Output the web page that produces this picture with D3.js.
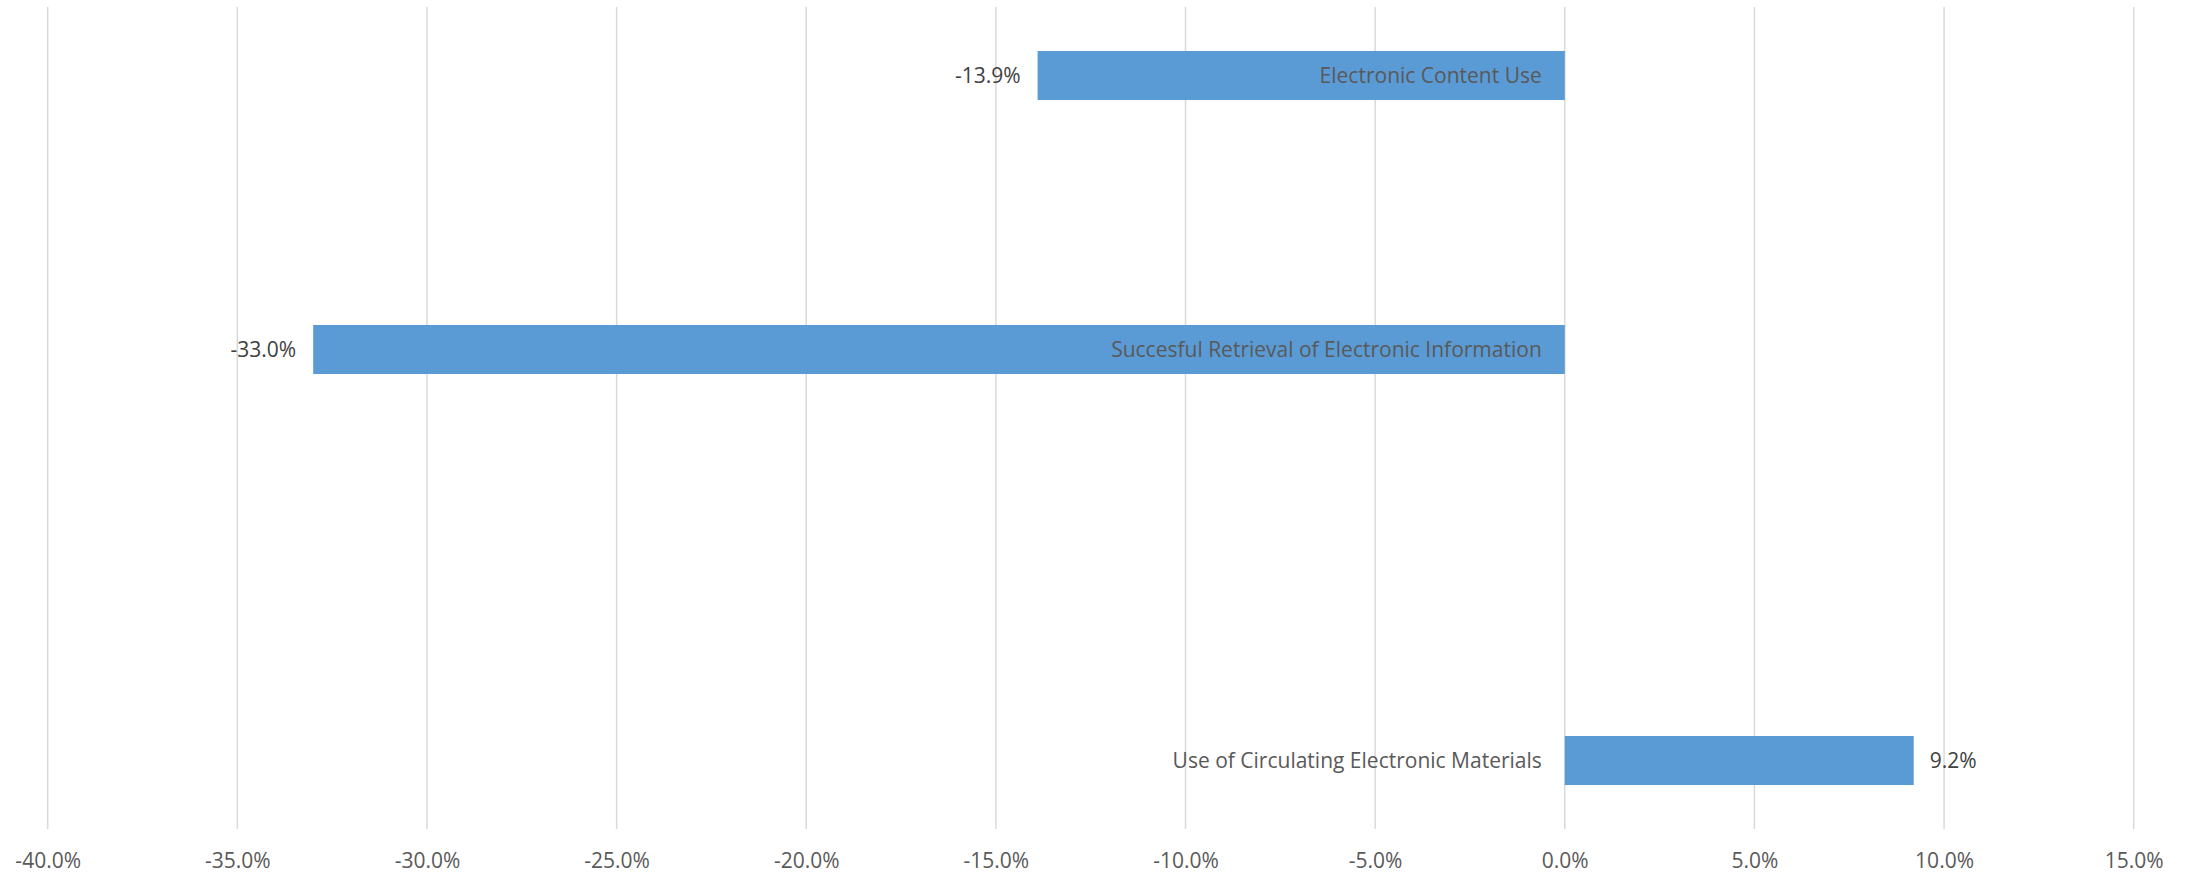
<!DOCTYPE html>
<html>
<head>
<meta charset="utf-8">
<script src="https://cdn.jsdelivr.net/npm/d3@7"></script>
<style>
  html, body { margin: 0; padding: 0; background: #ffffff; }
  svg { display: block; }
  text { font-family: "Open Sans", sans-serif; }
</style>
</head>
<body>
<svg id="chart" width="2190" height="874"></svg>
<script>
// Category slots (blank slots are empty positions in the chart)
const categories = [
  "Electronic Content Use",
  "",
  "Succesful Retrieval of Electronic Information",
  "",
  "",
  "Use of Circulating Electronic Materials"
];
const values = [-0.139, null, -0.330, null, null, 0.092];
const valueLabels = ["-13.9%", "", "-33.0%", "", "", "9.2%"];
const tickValues = [-0.40, -0.35, -0.30, -0.25, -0.20, -0.15, -0.10, -0.05, 0.00, 0.05, 0.10, 0.15];

(function () {
const plotLeft = 47.7, plotRight = 2133.7, plotTop = 7, plotBottom = 829;

const svg = d3.select("#chart");

const x = d3.scaleLinear().domain([-0.40, 0.15]).range([plotLeft, plotRight]);
const y = d3.scaleBand()
  .domain(d3.range(categories.length))
  .range([plotTop, plotBottom])
  .paddingInner(0.642)
  .paddingOuter(0.321);

// gridlines
svg.append("g").selectAll("line")
  .data(tickValues)
  .join("line")
  .attr("x1", d => x(d)).attr("x2", d => x(d))
  .attr("y1", plotTop).attr("y2", plotBottom)
  .attr("stroke", "#D9D9D9")
  .attr("stroke-width", 1.5);

// axis tick labels
const pct = d3.format(".1%");
const xAxis = d3.axisBottom(x)
  .tickValues(tickValues)
  .tickFormat(d => pct(d).replace("\u2212", "-"))
  .tickSize(0)
  .tickPadding(0);
const ax = svg.append("g")
  .attr("transform", `translate(0, ${plotBottom})`)
  .call(xAxis);
ax.select(".domain").remove();
ax.selectAll("text")
  .attr("y", 39)
  .attr("dy", null)
  .attr("fill", "#595959")
  .style("font-size", "21px")
  .style("font-family", "'Open Sans', sans-serif");

const data = categories.map((c, i) => ({ i, c, v: values[i], lab: valueLabels[i] }))
  .filter(d => d.v !== null);

// bars
svg.append("g").selectAll("rect")
  .data(data)
  .join("rect")
  .attr("x", d => Math.min(x(0), x(d.v)))
  .attr("y", d => y(d.i))
  .attr("width", d => Math.abs(x(d.v) - x(0)))
  .attr("height", y.bandwidth())
  .attr("fill", "#5B9BD5");

// category labels (near zero)
svg.append("g").selectAll("text")
  .data(data)
  .join("text")
  .attr("x", x(0) - 23)
  .attr("y", d => y(d.i) + y.bandwidth() / 2)
  .attr("dy", "0.35em")
  .attr("text-anchor", "end")
  .attr("fill", "#595959")
  .style("font-size", "21px")
  .text(d => d.c);

// value labels (outside end)
svg.append("g").selectAll("text")
  .data(data)
  .join("text")
  .attr("x", d => d.v < 0 ? x(d.v) - 17 : x(d.v) + 16)
  .attr("y", d => y(d.i) + y.bandwidth() / 2)
  .attr("dy", "0.35em")
  .attr("text-anchor", d => d.v < 0 ? "end" : "start")
  .attr("fill", "#404040")
  .style("font-size", "21px")
  .text(d => d.lab);
})();
</script>
</body>
</html>
